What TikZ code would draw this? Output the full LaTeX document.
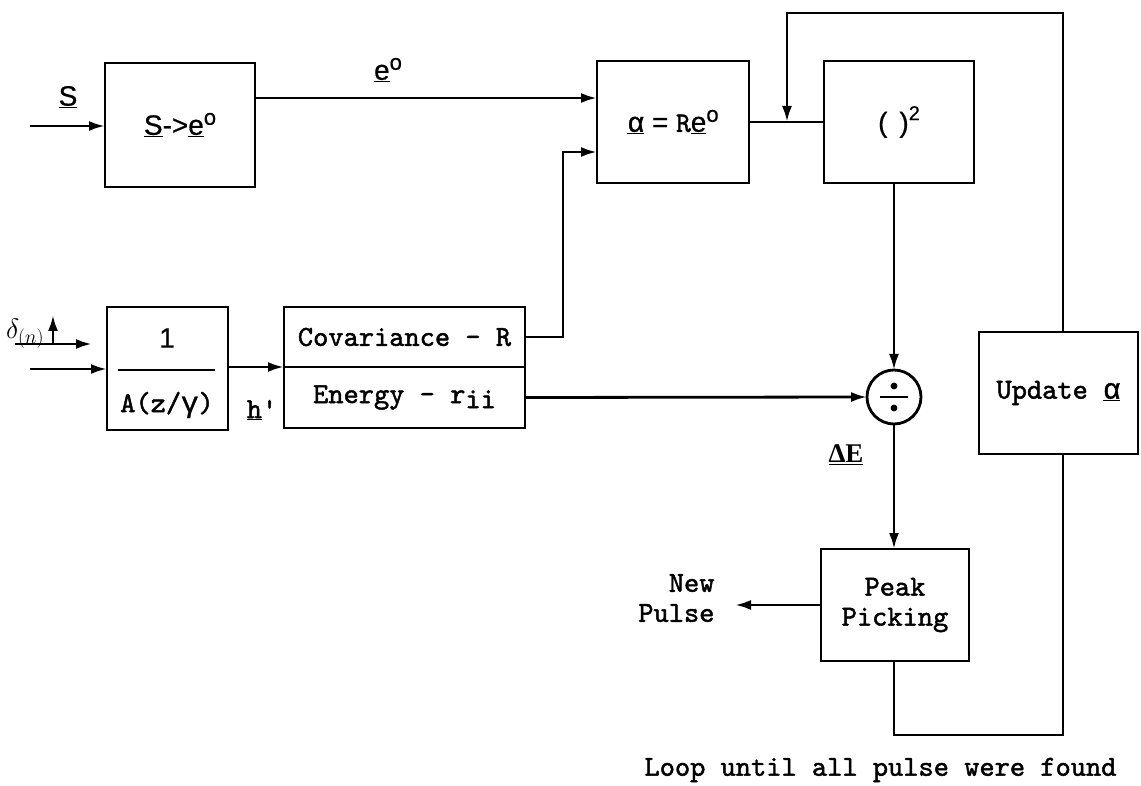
\RequirePackage{fix-cm}
\documentclass[tikz,border=0pt]{standalone}
\usepackage{fontspec}
\newfontfamily\sansf{Liberation Sans}[FakeBold=0.6]
\newfontfamily\ttb{lmmono10-regular.otf}[FakeBold=1.6]
\newfontfamily\grk{Liberation Mono}[FakeBold=1.2]
\newfontfamily\serb{Liberation Serif}
\usetikzlibrary{arrows.meta}
\begin{document}
\begin{tikzpicture}[x=1pt,y=-1pt,
  blk/.style={draw, line width=2.8pt, inner sep=0pt, outer sep=0pt, rectangle},
  wire/.style={line width=2.8pt},
  arr/.style={wire, -{Latex[length=16pt,width=10pt]}},
  tt/.style={font=\fontsize{29}{30}\selectfont\ttb},
  sf/.style={font=\fontsize{28}{30}\selectfont\sansf}]
\useasboundingbox (0,0) rectangle (1141,786);

% blocks
\node[blk, minimum width=150pt, minimum height=124pt, sf] (s2e) at (180,125) {\underline{S}->\underline{e}\raisebox{10pt}{\fontsize{22}{22}\selectfont o}};
\node[blk, minimum width=152pt, minimum height=122pt, sf] (alpha) at (673,122) {\underline{{\grk α}} = {\ttb R}\underline{e}\raisebox{10pt}{\fontsize{22}{22}\selectfont o}};
\node[blk, minimum width=150pt, minimum height=122pt, sf] (sq) at (899,122) {(\hspace{12pt})\raisebox{12pt}{\fontsize{20}{20}\selectfont 2}};
\node[blk, minimum width=159pt, minimum height=122pt, tt] (upd) at (1058.5,393) {Update \underline{{\grk α}}};
\node[draw, circle, line width=2.8pt, minimum size=54pt, inner sep=0pt, outer sep=0pt] (div) at (894,397) {};
\fill (894,386) circle (3.4pt) (894,408) circle (3.4pt);
\draw[line width=2.4pt] (880,397) -- (908,397);
\node[blk, minimum width=148pt, minimum height=112pt, tt, align=center] (peak) at (895,605) {Peak\\Picking};
\node[blk, minimum width=241pt, minimum height=60pt, tt] (cov) at (404.5,337) {Covariance - R};
\node[blk, minimum width=241pt, minimum height=61pt, tt, anchor=north] (en) at (cov.south) {Energy - r\raisebox{-5pt}{ii}};
\node[blk, minimum width=121pt, minimum height=123pt] (filt) at (167.5,368.5) {};
\node[sf] (one) at (167,338) {1};
\node[tt] (az) at (167,405) {A(z/{\grk γ})};
\draw[wire] (118,370) -- (215,370);

% coordinates
\coordinate (sin) at (30,126);
\coordinate (ein) at (0,98);
\coordinate (cin) at (563,152);
\coordinate (fbtop) at (787,13);
\coordinate (ux) at (1063,0);
\coordinate (np) at (735,605);
\coordinate (lb) at (894,735);
\coordinate (hin) at (30,369);
\coordinate (din) at (15,344);
\coordinate (dend) at (92,344);
\coordinate (dbase) at (53,345);
\coordinate (dtop) at (53,315);

% connectors
\draw[arr] (sin) -- (sin -| s2e.west);
\draw[arr] (s2e.east |- ein) -- (alpha.west |- ein);
\draw[arr] (cov.east) -| (cin) -- (cin -| alpha.west);
\draw[wire] (alpha.east) -- (sq.west);
\draw[arr] (ux |- upd.north) |- (fbtop) -- (fbtop |- alpha.east);
\draw[arr] (div.north |- sq.south) -- (div.north);
\draw[arr] (en.east) -- (div.west);
\draw[arr] (div.south) -- (div.south |- peak.north);
\draw[arr] (peak.west) -- (np);
\draw[wire] (peak.south -| lb) -- (lb) -| (ux |- upd.south);
\draw[arr] (filt.east |- cov.south west) -- (cov.south west);
\draw[arr] (hin) -- (hin -| filt.west);
\draw[arr] (din) -- (dend);
\draw[arr] (dbase) -- (dtop);

% labels
\node[sf] (slab) at (68,97) {\underline{S}};
\node[sf] (elab) at (388,70) {\underline{e}\raisebox{10pt}{\fontsize{22}{22}\selectfont o}};
\node[tt] (hlab) at (262,410) {\underline{h}'};
\node[font=\fontsize{27}{28}\selectfont\serb\bfseries] (de) at (846,455) {\underline{ΔE}};
\node[tt, align=right, anchor=east] (nptxt) at (718,598) {New\\Pulse};
\node[tt, anchor=east] (looptxt) at (1120,770) {Loop until all pulse were found};
\node[font=\fontsize{28}{28}\selectfont] (dl) at (25,334) {$\delta_{(n)}$};
\end{tikzpicture}
\end{document}
